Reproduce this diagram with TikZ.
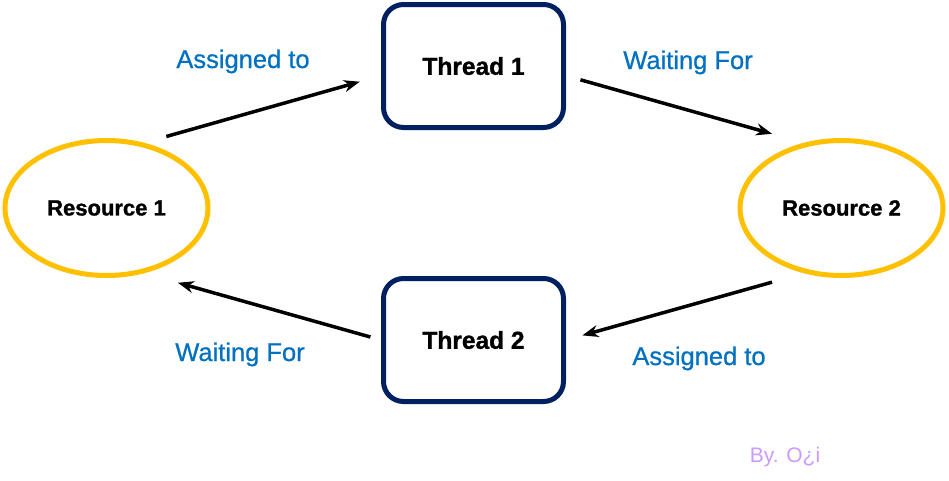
\documentclass[tikz,border=0pt]{standalone}
\usepackage{fontspec}
\setmainfont{Liberation Sans}
\newfontfamily\blackfont[FakeBold=1.2]{Liberation Sans Bold}
\newfontfamily\medfont[FakeBold=0.7]{Liberation Sans}
\usepackage{xcolor}
\usetikzlibrary{shapes.geometric,arrows.meta}

\definecolor{resyellow}{RGB}{255,192,0}
\definecolor{thrnavy}{RGB}{0,32,96}
\definecolor{lblblue}{RGB}{0,112,192}
\definecolor{signlilac}{RGB}{204,153,255}

\begin{document}
\begin{tikzpicture}[x=1pt, y=-1pt,
  res/.style={draw=resyellow, line width=5pt, ellipse, minimum width=203pt, minimum height=135pt, inner sep=0pt, font=\fontsize{22}{26}\selectfont\blackfont},
  thr/.style={draw=thrnavy, line width=5pt, rounded corners=20pt, minimum width=180pt, minimum height=123pt, inner sep=0pt, font=\fontsize{24.5}{28}\selectfont\blackfont},
  lbl/.style={text=lblblue, anchor=base, inner sep=0pt, font=\fontsize{25.5}{30}\selectfont\medfont},
  arr/.style={->, line width=3.5pt},
  >={Stealth[length=16pt,width=12pt]}]
\useasboundingbox (0,0) rectangle (949,480);
\node[res] (r1) at (106.5,208) {Resource 1};
\node[res] (r2) at (841.5,208) {Resource 2};
\node[thr] (t1) at (473.5,66) {Thread 1};
\node[thr] (t2) at (473.5,340) {Thread 2};
\draw[arr, shorten <=23pt, shorten >=22pt] (r1.60) -- (t1.186);
\draw[arr, shorten <=15pt, shorten >=33pt] (t1.354) -- (r2.120);
\draw[arr, shorten <=33pt, shorten >=17pt] (r2.240) -- (t2.east);
\draw[arr, shorten <=11pt, shorten >=35pt] (t2.west) -- (r1.300);
% labels of the edges
\node[lbl] (l1) at (243,68) {Assigned to};
\node[lbl] (l2) at (688,69) {Waiting For};
\node[lbl] (l3) at (240,361) {Waiting For};
\node[lbl] (l4) at (699,365) {Assigned to};
\node[text=signlilac, anchor=base, inner sep=0pt, font=\fontsize{21}{25}\selectfont] (sign) at (785,462) {By. O¿i};
\end{tikzpicture}
\end{document}
